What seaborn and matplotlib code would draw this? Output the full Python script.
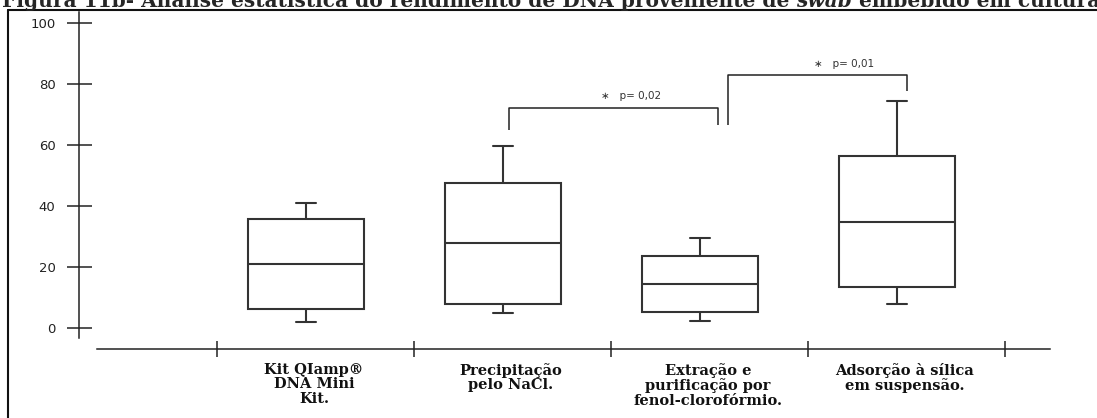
import numpy as np
import pandas as pd
import matplotlib
matplotlib.use("Agg")
import matplotlib.pyplot as plt
from matplotlib.lines import Line2D
import seaborn as sns

# values (five-number summary of each method)
metodos = ["Kit QIamp®\nDNA Mini\nKit.",
           "Precipitação\npelo NaCl.",
           "Extração e\npurificação por\nfenol-clorofórmio.",
           "Adsorção à sílica\nem suspensão."]
minimo = [2.0, 4.9, 2.3, 7.9]
q1 = [6.2, 7.9, 5.2, 13.4]
mediana = [21.0, 27.9, 14.4, 34.8]
q3 = [35.7, 47.5, 23.6, 56.4]
maximo = [41.0, 59.7, 29.5, 74.4]

y_ticks = [0, 20, 40, 60, 80, 100]
comparacoes = [(1, 2, "p= 0,02"), (2, 3, "p= 0,01")]

rows = []
for m, vals in zip(metodos, zip(minimo, q1, mediana, q3, maximo)):
    for v in vals:
        rows.append((m, v))
df = pd.DataFrame(rows, columns=["metodo", "rendimento"])

sns.set_style("white")
plt.rcParams["font.family"] = ["DejaVu Sans"]

W, H = 1097, 418
fig = plt.figure(figsize=(W / 100, H / 100), dpi=100)

# pixel layout of the original
x0, px_x = 306, 197.0      # category 0 position, px per category
y0, px_y = 327.7, 3.047    # value 0 position, px per unit
ax_l, ax_r, ax_t, ax_b = 79, 1060, 12, 349

ax = fig.add_axes([ax_l / W, 1 - ax_b / H, (ax_r - ax_l) / W, (ax_b - ax_t) / H])

sns.boxplot(data=df, x="metodo", y="rendimento", order=metodos, ax=ax,
            width=0.59, whis=(0, 100), color="white", linecolor="#333333",
            linewidth=1.5, showfliers=False, capwidths=0.1)

ax.set_xlim((ax_l - x0) / px_x, (ax_r - x0) / px_x)
ax.set_ylim((y0 - ax_b) / px_y, (y0 - ax_t) / px_y)
ax.set_xlabel("")
ax.set_ylabel("")

for s in ["top", "right"]:
    ax.spines[s].set_visible(False)
ax.spines["left"].set_bounds((y0 - 338) / px_y, (y0 - ax_t) / px_y)
ax.spines["bottom"].set_bounds((97 - x0) / px_x, (1050 - x0) / px_x)
for s in ["left", "bottom"]:
    ax.spines[s].set_color("#222222")
    ax.spines[s].set_linewidth(1.1)

ax.set_yticks(y_ticks)
ax.set_yticklabels([str(t) for t in y_ticks], fontsize=9.5, color="#222222")
ax.tick_params(axis="y", direction="inout", length=18, width=1.1,
               color="#222222", pad=8, left=True)

# separators on the category axis, labels in between
ax.set_xticks(np.arange(len(metodos) + 1) - 0.45)
ax.set_xticklabels([])
ax.set_xticks(np.arange(len(metodos)) + 0.04, minor=True)
ax.set_xticklabels(metodos, minor=True, fontfamily="DejaVu Serif",
                   fontweight="bold", fontsize=10.5, linespacing=1.05,
                   color="#111111")
ax.tick_params(axis="x", which="major", direction="inout", length=11,
               width=1.1, color="#222222", bottom=True)
ax.tick_params(axis="x", which="minor", length=0, pad=10, bottom=True)

# significance brackets
bracket_geo = [(0.03, 0.09, 72.1, 64.9, 66.6, 0.65, 75.1),
               (0.14, 0.05, 83.0, 66.6, 77.7, 0.73, 85.6)]
for (i, j, lab), (dl, dr, top, yl, yr, tx, ty) in zip(comparacoes, bracket_geo):
    ax.plot([i + dl, i + dl, j + dr, j + dr], [yl, top, top, yr],
            color="#222222", lw=1.1, solid_capstyle="butt")
    ax.text(i + tx, ty, "\u2217   " + lab, ha="center", va="baseline",
            fontsize=7.5, color="#333333")

# outer frame of the pasted figure
fig.add_artist(Line2D([8 / W, 8 / W], [0, 1 - 10 / H], transform=fig.transFigure,
                      color="#111111", lw=1.5))
fig.add_artist(Line2D([8 / W, 1], [1 - 10 / H, 1 - 10 / H], transform=fig.transFigure,
                      color="#111111", lw=1.5))

# caption, cut at the top edge as in the original
serif = dict(fontfamily="DejaVu Serif", fontweight="bold", fontsize=14.5)
t1 = fig.text(2 / W, 1 - 7 / H,
              "Figura 11b- Análise estatística do rendimento de DNA proveniente de ",
              va="baseline", ha="left", **serif)
t2 = ax.annotate("swab", xy=(1, 0), xycoords=t1, va="bottom", ha="left",
                 fontstyle="italic", annotation_clip=False, **serif)
ax.annotate(" embebido em cultura", xy=(1, 0), xycoords=t2, va="bottom",
            ha="left", annotation_clip=False, **serif)

fig.savefig("out.png", dpi=100, facecolor="white")
